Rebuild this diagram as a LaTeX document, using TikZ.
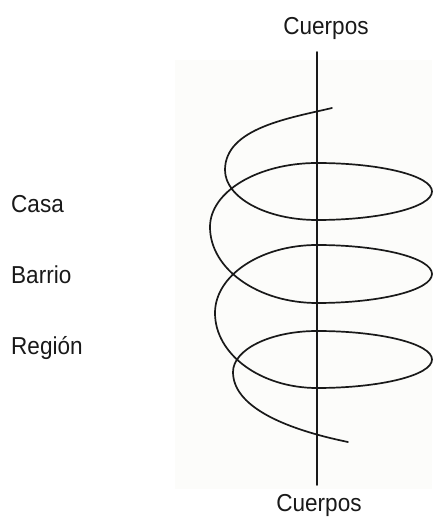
\documentclass[tikz,border=0pt]{standalone}
\usepackage{fontspec}
\setmainfont{Liberation Sans}[FakeStretch=0.92]
\definecolor{bgfill}{RGB}{252,252,250}
\definecolor{ink}{RGB}{25,25,25}
\begin{document}
\begin{tikzpicture}[x=1pt,y=1pt,
  lbl/.style={font=\fontsize{24.5}{28}\selectfont, inner sep=0pt, text=ink},
  helix/.style={line width=1.7pt, draw=ink, line cap=round}]
\useasboundingbox (0,0) rectangle (432,520);
\fill[bgfill] (175,31) rectangle (432,460);
\coordinate (axtop) at (317,468);
\coordinate (axbot) at (317,35);
\draw[helix] (axtop) -- (axbot);
\node[lbl, anchor=base] (ctop) at (326,485) {Cuerpos};
\node[lbl, anchor=base] (cbot) at (319,9) {Cuerpos};
\node[lbl, anchor=base west] (casa) at (11,307) {Casa};
\node[lbl, anchor=base west] (barrio) at (11,236) {Barrio};
\node[lbl, anchor=base west] (region) at (11,165) {Región};
\draw[helix] (332,412) .. controls (290,402) and (225,392) .. (225,350)
  arc[start angle=180, end angle=270, x radius=92, y radius=50]
  arc[start angle=-90, end angle=90, x radius=115, y radius=28.5]
  arc[start angle=90, end angle=180, x radius=107, y radius=64]
  arc[start angle=180, end angle=270, x radius=107, y radius=76]
  arc[start angle=-90, end angle=90, x radius=115, y radius=29]
  arc[start angle=90, end angle=180, x radius=102, y radius=68]
  arc[start angle=180, end angle=270, x radius=102, y radius=75]
  arc[start angle=-90, end angle=90, x radius=115, y radius=28.5]
  arc[start angle=90, end angle=180, x radius=84, y radius=41]
  .. controls (233,115) and (280,92) .. (348,78);
\end{tikzpicture}
\end{document}
